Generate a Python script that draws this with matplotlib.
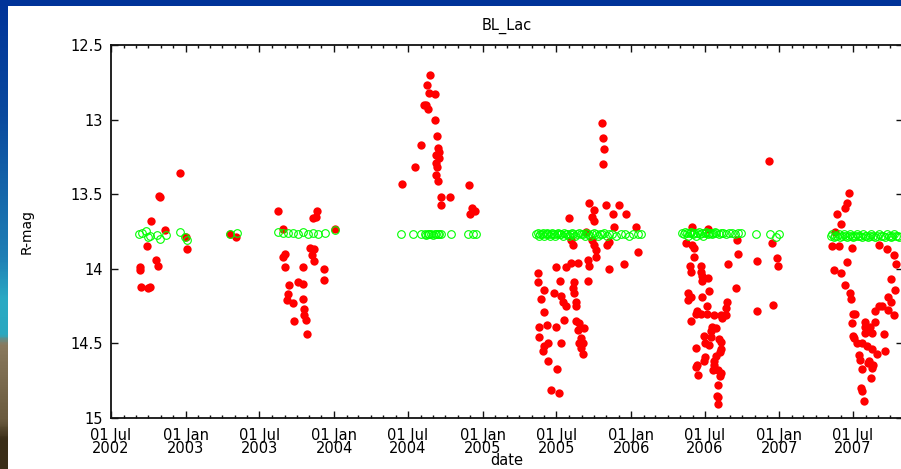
import numpy as np
import matplotlib
matplotlib.use('Agg')
import matplotlib.pyplot as plt
import matplotlib.dates as mdates
import matplotlib.patches as mpatches
from matplotlib.colors import LinearSegmentedColormap

# BL Lac R-band light curve, (decimal year, R mag)
red_2002 = [(2002.964, 13.36), (2002.823, 13.51), (2002.826, 13.52), (2002.767, 13.68),
            (2002.863, 13.74), (2002.740, 13.85), (2002.690, 13.99), (2002.692, 14.01),
            (2002.802, 13.94), (2002.811, 13.98), (2002.700, 14.12), (2002.744, 14.13),
            (2002.757, 14.12), (2003.004, 13.79), (2003.009, 13.87), (2003.340, 13.79),
            (2003.300, 13.77)]
red_2003 = [(2003.624, 13.61), (2003.882, 13.61), (2003.860, 13.66), (2003.878, 13.65),
            (2003.658, 13.735), (2004.005, 13.73), (2003.837, 13.86), (2003.864, 13.87),
            (2003.669, 13.90), (2003.658, 13.92), (2003.849, 13.91), (2003.864, 13.95),
            (2003.669, 13.99), (2003.788, 13.99), (2003.931, 14.00), (2003.931, 14.075),
            (2003.698, 14.11), (2003.759, 14.09), (2003.788, 14.10), (2003.692, 14.17),
            (2003.685, 14.21), (2003.721, 14.23), (2003.788, 14.20), (2003.797, 14.27),
            (2003.797, 14.31), (2003.810, 14.34), (2003.730, 14.35), (2003.819, 14.44)]
red_2004 = [(2004.649, 12.70), (2004.628, 12.77), (2004.637, 12.82), (2004.677, 12.83),
            (2004.603, 12.90), (2004.622, 12.90), (2004.632, 12.93), (2004.677, 13.005),
            (2004.693, 13.11), (2004.588, 13.17), (2004.700, 13.19), (2004.706, 13.215),
            (2004.689, 13.24), (2004.706, 13.26), (2004.689, 13.29), (2004.693, 13.32),
            (2004.543, 13.32), (2004.684, 13.37), (2004.700, 13.41), (2004.460, 13.43),
            (2004.906, 13.44), (2004.722, 13.52), (2004.783, 13.52), (2004.722, 13.57),
            (2004.931, 13.59), (2004.946, 13.61), (2004.917, 13.635)]
red_2005 = [(2005.808, 13.02), (2005.813, 13.12), (2005.820, 13.20), (2005.813, 13.30),
            (2005.719, 13.56), (2005.831, 13.575), (2005.921, 13.57), (2005.753, 13.606),
            (2005.876, 13.63), (2005.966, 13.633), (2005.585, 13.66), (2005.741, 13.65),
            (2005.753, 13.68), (2005.887, 13.72), (2006.033, 13.72), (2005.697, 13.75),
            (2005.596, 13.81), (2005.607, 13.84), (2005.741, 13.81), (2005.753, 13.84),
            (2005.853, 13.82), (2005.842, 13.84), (2005.764, 13.874), (2006.050, 13.89),
            (2005.764, 13.92), (2005.708, 13.94), (2005.596, 13.96), (2005.640, 13.96),
            (2005.954, 13.97), (2005.495, 13.99), (2005.563, 13.99), (2005.719, 13.98),
            (2005.853, 14.00), (2005.376, 14.03), (2005.376, 14.09), (2005.524, 14.08),
            (2005.618, 14.09), (2005.708, 14.08), (2005.417, 14.14), (2005.607, 14.13),
            (2005.614, 14.16), (2005.484, 14.16), (2005.529, 14.18), (2005.394, 14.20),
            (2005.540, 14.22), (2005.630, 14.22), (2005.563, 14.25), (2005.630, 14.25),
            (2005.412, 14.29), (2005.551, 14.34), (2005.630, 14.35), (2005.652, 14.365),
            (2005.383, 14.39), (2005.435, 14.38), (2005.495, 14.39), (2005.640, 14.41),
            (2005.685, 14.40), (2005.383, 14.455), (2005.663, 14.466), (2005.652, 14.50),
            (2005.674, 14.50), (2005.439, 14.50), (2005.529, 14.50), (2005.417, 14.52),
            (2005.405, 14.55), (2005.663, 14.53), (2005.674, 14.57), (2005.439, 14.616),
            (2005.502, 14.67), (2005.462, 14.81), (2005.513, 14.83)]
red_2006 = [(2006.933, 13.275), (2006.409, 13.72), (2006.521, 13.735), (2006.373, 13.83),
            (2006.413, 13.84), (2006.716, 13.81), (2006.951, 13.83), (2006.425, 13.86),
            (2006.722, 13.90), (2006.425, 13.92), (2006.850, 13.945), (2006.985, 13.925),
            (2006.655, 13.97), (2006.396, 13.98), (2006.474, 13.98), (2006.989, 13.98),
            (2006.403, 14.02), (2006.474, 14.02), (2006.481, 14.05), (2006.521, 14.06),
            (2006.481, 14.08), (2006.705, 14.126), (2006.526, 14.15), (2006.384, 14.16),
            (2006.403, 14.19), (2006.481, 14.19), (2006.386, 14.21), (2006.644, 14.22),
            (2006.956, 14.245), (2006.510, 14.25), (2006.642, 14.265), (2006.447, 14.28),
            (2006.436, 14.30), (2006.470, 14.30), (2006.514, 14.30), (2006.559, 14.31),
            (2006.604, 14.31), (2006.642, 14.31), (2006.846, 14.28), (2006.611, 14.33),
            (2006.403, 14.35), (2006.544, 14.39), (2006.571, 14.40), (2006.537, 14.42),
            (2006.492, 14.45), (2006.537, 14.455), (2006.593, 14.47), (2006.604, 14.49),
            (2006.499, 14.495), (2006.526, 14.51), (2006.440, 14.53), (2006.608, 14.54),
            (2006.597, 14.555), (2006.499, 14.59), (2006.571, 14.585), (2006.492, 14.62),
            (2006.559, 14.62), (2006.447, 14.645), (2006.436, 14.66), (2006.559, 14.645),
            (2006.552, 14.68), (2006.588, 14.68), (2006.604, 14.70), (2006.454, 14.71),
            (2006.597, 14.72), (2006.588, 14.78), (2006.581, 14.85), (2006.588, 14.86),
            (2006.586, 14.906)]
red_2007 = [(2007.466, 13.49), (2007.453, 13.56), (2007.440, 13.59), (2007.386, 13.63),
            (2007.413, 13.70), (2007.372, 13.75), (2007.352, 13.85), (2007.399, 13.85),
            (2007.487, 13.86), (2007.453, 13.955), (2007.366, 14.01), (2007.413, 14.03),
            (2007.668, 13.84), (2007.722, 13.87), (2007.769, 13.91), (2007.789, 13.97),
            (2007.755, 14.07), (2007.782, 14.14), (2007.735, 14.19), (2007.473, 14.16),
            (2007.480, 14.20), (2007.440, 14.11), (2007.755, 14.22), (2007.690, 14.25),
            (2007.735, 14.275), (2007.769, 14.31), (2007.641, 14.28), (2007.668, 14.25),
            (2007.493, 14.30), (2007.507, 14.30), (2007.489, 14.365), (2007.579, 14.355),
            (2007.641, 14.355), (2007.574, 14.39), (2007.612, 14.39), (2007.493, 14.45),
            (2007.500, 14.466), (2007.579, 14.43), (2007.623, 14.43), (2007.702, 14.44),
            (2007.522, 14.50), (2007.556, 14.50), (2007.589, 14.52), (2007.623, 14.54),
            (2007.713, 14.55), (2007.657, 14.57), (2007.534, 14.58), (2007.545, 14.61),
            (2007.601, 14.62), (2007.596, 14.63), (2007.628, 14.645), (2007.560, 14.67),
            (2007.623, 14.666), (2007.619, 14.73), (2007.552, 14.80), (2007.556, 14.82),
            (2007.567, 14.885)]

# comparison star (green open circles)
green_2002 = [(2002.688, 13.767), (2002.706, 13.762), (2002.735, 13.747), (2002.744, 13.789),
              (2002.757, 13.78), (2002.807, 13.773), (2002.825, 13.798), (2002.870, 13.773),
              (2002.964, 13.751), (2002.997, 13.789), (2003.009, 13.807), (2003.300, 13.767),
              (2003.345, 13.758)]
green_2003 = [(2003.624, 13.751), (2003.658, 13.758), (2003.692, 13.762), (2003.725, 13.758),
              (2003.759, 13.767), (2003.793, 13.755), (2003.826, 13.767), (2003.860, 13.762),
              (2003.893, 13.767), (2003.938, 13.762), (2004.005, 13.74)]
green_2004 = [(2004.454, 13.767), (2004.532, 13.765), (2004.588, 13.770), (2004.610, 13.767),
              (2004.620, 13.772), (2004.632, 13.765), (2004.642, 13.770), (2004.655, 13.767),
              (2004.665, 13.772), (2004.677, 13.765), (2004.688, 13.768), (2004.700, 13.770),
              (2004.710, 13.765), (2004.722, 13.767), (2004.790, 13.767), (2004.901, 13.767),
              (2004.935, 13.765), (2004.958, 13.767)]
green_2005 = [(2005.363, 13.77), (2005.372, 13.76), (2005.381, 13.78), (2005.390, 13.77),
              (2005.398, 13.77), (2005.407, 13.76), (2005.416, 13.78), (2005.425, 13.77),
              (2005.434, 13.76), (2005.443, 13.77), (2005.452, 13.78), (2005.461, 13.77),
              (2005.470, 13.76), (2005.480, 13.77), (2005.490, 13.78), (2005.500, 13.77),
              (2005.510, 13.76), (2005.520, 13.77), (2005.530, 13.77), (2005.540, 13.78),
              (2005.550, 13.76), (2005.560, 13.77), (2005.570, 13.77), (2005.580, 13.78),
              (2005.590, 13.77), (2005.600, 13.76), (2005.612, 13.77), (2005.625, 13.78),
              (2005.638, 13.77), (2005.650, 13.76), (2005.662, 13.77), (2005.675, 13.77),
              (2005.688, 13.78), (2005.700, 13.76), (2005.712, 13.77), (2005.725, 13.78),
              (2005.738, 13.77), (2005.750, 13.76), (2005.762, 13.77), (2005.775, 13.78),
              (2005.790, 13.77), (2005.805, 13.77), (2005.820, 13.76), (2005.838, 13.78),
              (2005.855, 13.77), (2005.870, 13.77), (2005.902, 13.78), (2005.930, 13.77),
              (2005.958, 13.77), (2005.985, 13.78), (2006.015, 13.77), (2006.045, 13.77),
              (2006.069, 13.77)]
green_2006 = [(2006.346, 13.76), (2006.356, 13.77), (2006.366, 13.75), (2006.376, 13.76),
              (2006.386, 13.78), (2006.396, 13.76), (2006.406, 13.75), (2006.416, 13.77),
              (2006.426, 13.76), (2006.436, 13.78), (2006.446, 13.76), (2006.456, 13.75),
              (2006.466, 13.77), (2006.476, 13.76), (2006.486, 13.78), (2006.496, 13.76),
              (2006.506, 13.75), (2006.516, 13.77), (2006.526, 13.76), (2006.536, 13.76),
              (2006.546, 13.77), (2006.556, 13.76), (2006.566, 13.75), (2006.576, 13.76),
              (2006.590, 13.77), (2006.605, 13.76), (2006.620, 13.76), (2006.640, 13.77),
              (2006.660, 13.76), (2006.680, 13.76), (2006.700, 13.77), (2006.722, 13.76),
              (2006.741, 13.76), (2006.843, 13.765), (2006.940, 13.765), (2006.974, 13.785),
              (2006.996, 13.765)]
green_2007 = [(2007.345, 13.78), (2007.356, 13.77), (2007.367, 13.79), (2007.378, 13.78),
              (2007.389, 13.78), (2007.400, 13.77), (2007.411, 13.79), (2007.422, 13.78),
              (2007.433, 13.77), (2007.444, 13.78), (2007.455, 13.79), (2007.466, 13.78),
              (2007.477, 13.77), (2007.488, 13.78), (2007.499, 13.79), (2007.510, 13.78),
              (2007.521, 13.77), (2007.532, 13.78), (2007.543, 13.78), (2007.554, 13.79),
              (2007.565, 13.77), (2007.576, 13.78), (2007.587, 13.78), (2007.598, 13.79),
              (2007.609, 13.78), (2007.620, 13.77), (2007.632, 13.78), (2007.645, 13.79),
              (2007.658, 13.78), (2007.671, 13.77), (2007.684, 13.78), (2007.697, 13.78),
              (2007.710, 13.79), (2007.723, 13.77), (2007.736, 13.78), (2007.749, 13.79),
              (2007.762, 13.78), (2007.775, 13.77), (2007.788, 13.78), (2007.800, 13.78),
              (2007.809, 13.79)]

red = red_2002 + red_2003 + red_2004 + red_2005 + red_2006 + red_2007
green = green_2002 + green_2003 + green_2004 + green_2005 + green_2006 + green_2007


def to_dates(yrs):
    yrs = np.asarray(yrs)
    days = (yrs - 2000.0) * 365.25
    return np.datetime64('2000-01-01T00:00') + (days * 1440).astype('timedelta64[m]')


plt.rcParams['font.family'] = ['DejaVu Sans']

fig = plt.figure(figsize=(9.01, 4.69), dpi=100)
fig.patch.set_facecolor('white')

# slide decoration: blue bar on top, gradient strip on the left
fig.patches.append(mpatches.Rectangle((0, 1 - 6 / 469), 1, 6 / 469, transform=fig.transFigure,
                                      facecolor='#003399', edgecolor='none', zorder=0))
strip = fig.add_axes([0, 0, 8 / 901, 1])
cmap = LinearSegmentedColormap.from_list('slide', [
    (0.0, '#003399'), (0.25, '#0a4a9e'), (0.55, '#1f7fb5'), (0.64, '#2aaac4'),
    (0.715, '#2aa8c0'), (0.735, '#8a7a5e'), (0.9, '#6a5a3e'), (0.94, '#3a2e18'), (1.0, '#3a2e18')])
strip.imshow(np.linspace(0, 1, 200).reshape(-1, 1), aspect='auto', cmap=cmap,
             extent=[0, 1, 1, 0])
strip.set_axis_off()

ax = fig.add_axes([111 / 901, 1 - 418 / 469, 792 / 901, 373 / 469])
rx, ry = zip(*red)
gx, gy = zip(*green)
ax.plot(to_dates(rx), ry, 'o', color='#ff0000', markersize=6, markeredgewidth=0, zorder=3)
ax.plot(to_dates(gx), gy, 'o', markerfacecolor='none', markeredgecolor='#00ff00',
        markersize=5.5, markeredgewidth=0.8, zorder=4)

ax.set_xlim(np.datetime64('2002-07-01'), np.datetime64('2007-11-01'))
ax.set_ylim(15, 12.5)
ax.set_yticks([12.5, 13, 13.5, 14, 14.5, 15])
ax.set_yticklabels(['12.5', '13', '13.5', '14', '14.5', '15'])
ax.xaxis.set_major_locator(mdates.MonthLocator(bymonth=[1, 7]))
ax.xaxis.set_minor_locator(mdates.MonthLocator())
ax.xaxis.set_major_formatter(mdates.DateFormatter('%d %b\n%Y'))

ax.tick_params(which='both', direction='in', top=True, right=True, width=1.0, color='#111111')
ax.tick_params(which='major', length=5, labelsize=10.5)
ax.tick_params(axis='x', which='major', pad=7)
ax.tick_params(axis='y', which='major', pad=6)
ax.tick_params(which='minor', length=2.5)
for lab in ax.get_xticklabels():
    lab.set_linespacing(0.85)
for sp in ax.spines.values():
    sp.set_linewidth(1.3)
    sp.set_color('#111111')

ax.set_title('BL_Lac', fontsize=10.5, pad=11)
ax.set_ylabel('R-mag', fontsize=10, labelpad=26)
ax.set_xlabel('date', fontsize=10.5, va='baseline')
ax.xaxis.set_label_coords(0.5, -0.126)

fig.savefig('out.png', dpi=100)
